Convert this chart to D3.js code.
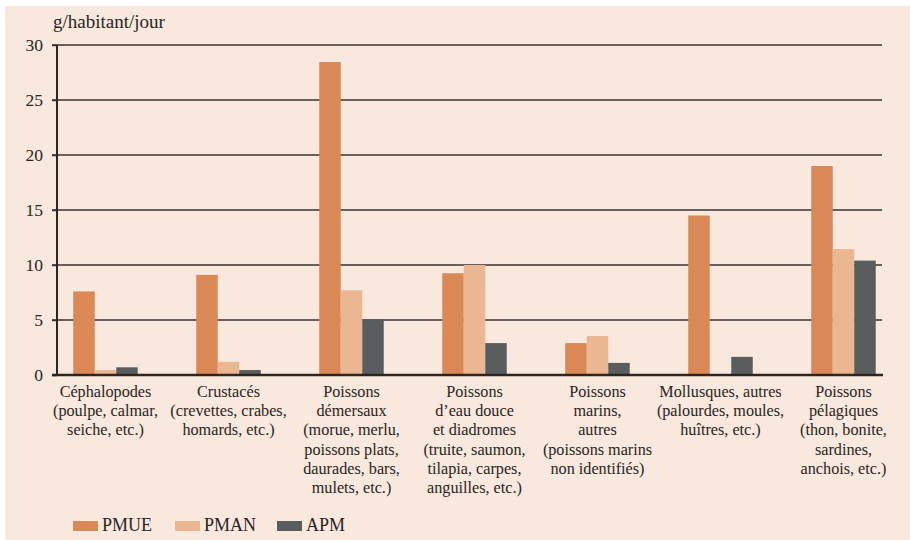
<!DOCTYPE html>
<html>
<head>
<meta charset="utf-8">
<script src="https://cdn.jsdelivr.net/npm/d3@7"></script>
<style>
  body { margin: 0; background: #fff; }
</style>
</head>
<body>
<div id="chart"></div>
<script>
// Data
var categories = [
  ["Céphalopodes", "(poulpe, calmar,", "seiche, etc.)"],
  ["Crustacés", "(crevettes, crabes,", "homards, etc.)"],
  ["Poissons", "démersaux", "(morue, merlu,", "poissons plats,", "daurades, bars,", "mulets, etc.)"],
  ["Poissons", "d’eau douce", "et diadromes", "(truite, saumon,", "tilapia, carpes,", "anguilles, etc.)"],
  ["Poissons", "marins,", "autres", "(poissons marins", "non identifiés)"],
  ["Mollusques, autres", "(palourdes, moules,", "huîtres, etc.)"],
  ["Poissons", "pélagiques", "(thon, bonite,", "sardines,", "anchois, etc.)"]
];
var seriesNames = ["PMUE", "PMAN", "APM"];
var pmue = [7.6, 9.1, 28.45, 9.25, 2.9, 14.5, 19.0];
var pman = [0.45, 1.2, 7.7, 10.0, 3.55, 0, 11.45];
var apm = [0.7, 0.45, 5.05, 2.9, 1.1, 1.65, 10.4];
var yTicks = [0, 5, 10, 15, 20, 25, 30];
var colors = ["#d98856", "#ebb793", "#5a5d5e"];

var FONT = "Liberation Serif";
var INK = "#2b2523";

var svgWidth = 910, svgHeight = 540;
var svg = d3.select("#chart").append("svg")
  .attr("width", svgWidth)
  .attr("height", svgHeight);

// background panel
svg.append("rect")
  .attr("x", 5).attr("y", 6)
  .attr("width", svgWidth - 5).attr("height", svgHeight - 6)
  .attr("fill", "#f8e8dd");

var plot = {left: 57, right: 882, top: 45, bottom: 375};

var y = d3.scaleLinear().domain([0, 30]).range([plot.bottom, plot.top]);
var x0 = d3.scaleBand().domain(d3.range(categories.length)).range([44, 905]);
var x1 = d3.scaleBand().domain(seriesNames).range([0, 64.5]);
var color = d3.scaleOrdinal().domain(seriesNames).range(colors);

// gridlines
svg.append("g")
  .selectAll("line")
  .data(yTicks.filter(function(d) { return d > 0; }))
  .enter().append("line")
  .attr("x1", plot.left - 5).attr("x2", plot.right)
  .attr("y1", function(d) { return y(d); })
  .attr("y2", function(d) { return y(d); })
  .attr("stroke", "#3a3332").attr("stroke-width", 1.5);

// y axis
var yAxis = svg.append("g")
  .attr("transform", "translate(" + plot.left + ",0)")
  .call(d3.axisLeft(y).tickValues(yTicks).tickSize(5).tickPadding(9));
yAxis.attr("font-family", null).attr("font-size", null);
yAxis.select(".domain").remove();
yAxis.selectAll(".tick line").attr("stroke", "#3a3332").attr("stroke-width", 1.5);
yAxis.selectAll(".tick text")
  .attr("font-family", FONT)
  .attr("font-size", 17.5)
  .attr("fill", INK);
svg.append("line")
  .attr("x1", plot.left).attr("x2", plot.left)
  .attr("y1", plot.top).attr("y2", plot.bottom)
  .attr("stroke", INK).attr("stroke-width", 2);

svg.append("text")
  .attr("x", 53).attr("y", 28)
  .attr("font-family", FONT)
  .attr("font-size", 19)
  .attr("fill", INK)
  .text("g/habitant/jour");

// bars
var rows = categories.map(function(c, i) {
  return {i: i, vals: [pmue[i], pman[i], apm[i]]};
});
var groups = svg.append("g").selectAll("g")
  .data(rows).enter().append("g")
  .attr("transform", function(d) {
    return "translate(" + (x0(d.i) + x0.bandwidth() / 2 - 32.25) + ",0)";
  });
groups.selectAll("rect")
  .data(function(d) { return d.vals.map(function(v, k) { return {key: seriesNames[k], v: v}; }); })
  .enter().append("rect")
  .attr("x", function(d) { return x1(d.key); })
  .attr("width", x1.bandwidth())
  .attr("y", function(d) { return y(d.v); })
  .attr("height", function(d) { return y(0) - y(d.v); })
  .attr("fill", function(d) { return color(d.key); });

// baseline
svg.append("line")
  .attr("x1", plot.left - 5).attr("x2", plot.right + 1)
  .attr("y1", y(0)).attr("y2", y(0))
  .attr("stroke", INK).attr("stroke-width", 2.5);

// x labels, one text per line
var labelGroups = svg.append("g").selectAll("g")
  .data(categories).enter().append("g")
  .attr("transform", function(d, i) { return "translate(" + (x0(i) + x0.bandwidth() / 2) + ",397)"; });
labelGroups.selectAll("text")
  .data(function(d) { return d; })
  .enter().append("text")
  .attr("text-anchor", "middle")
  .attr("x", 0)
  .attr("y", function(d, k) { return k * 19.2; })
  .attr("fill", INK)
  .attr("font-family", FONT)
  .attr("font-size", 16.2)
  .text(function(d) { return d; });

// legend
var legend = svg.append("g").selectAll("g")
  .data(seriesNames).enter().append("g")
  .attr("transform", function(d, i) { return "translate(" + (73 + i * 102) + ",521)"; });
legend.append("rect")
  .attr("width", 25).attr("height", 10)
  .attr("fill", function(d) { return color(d); });
legend.append("text")
  .attr("x", 29).attr("y", 9.5)
  .attr("fill", INK)
  .attr("font-family", FONT)
  .attr("font-size", 18)
  .text(function(d) { return d; });
</script>
</body>
</html>
